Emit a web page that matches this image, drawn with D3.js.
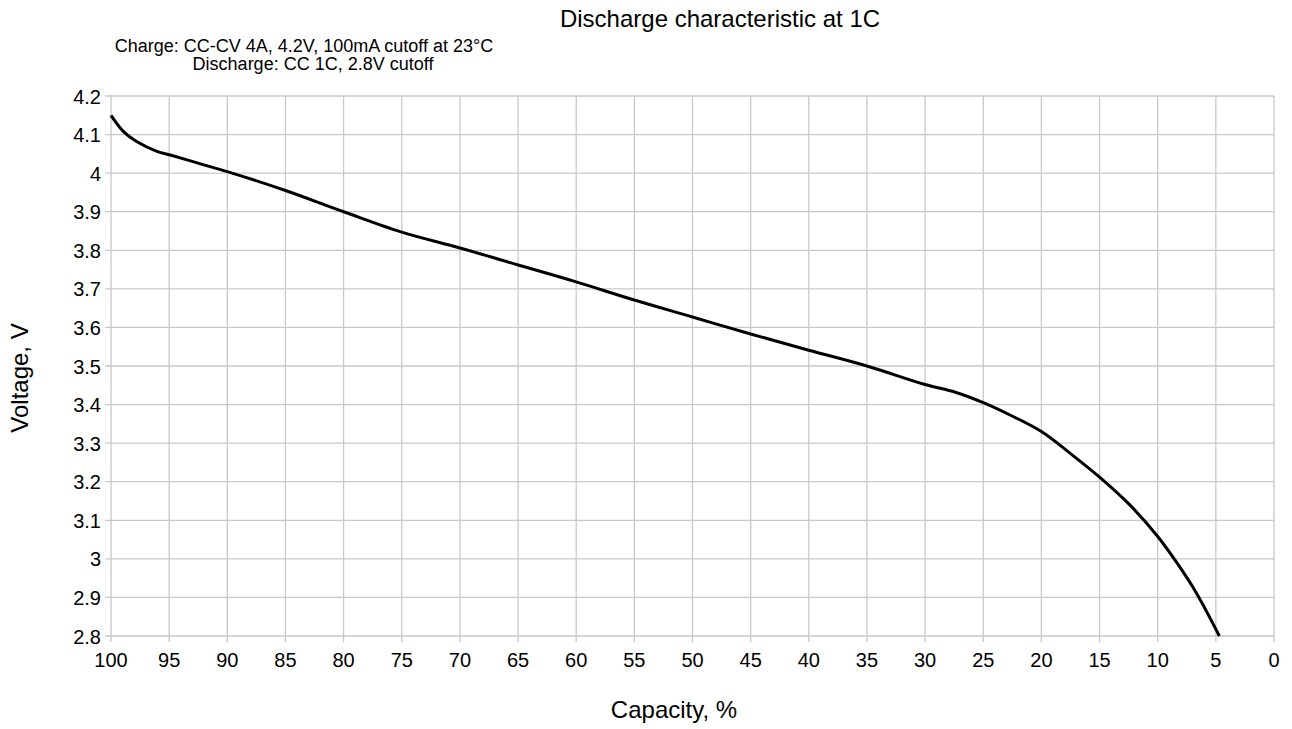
<!DOCTYPE html>
<html>
<head>
<meta charset="utf-8">
<script src="https://cdn.jsdelivr.net/npm/d3@7"></script>
<style>
  body { margin: 0; background: #fff; }
  text { font-family: "Liberation Sans", Arial, sans-serif; fill: #000; }
</style>
</head>
<body>
<svg id="chart" width="1292" height="729"></svg>
<script>
// capacity (%) and voltage (V)
const capacity = [100, 98.9, 97.8, 96, 94.9, 92.3, 90, 85, 80, 75, 70, 65, 60, 55, 50, 45, 40, 35, 30, 27.4, 25, 22.7, 20, 17.5, 15, 12.4, 10, 8.4, 6.7, 4.7];
const voltage = [4.15, 4.107, 4.082, 4.056, 4.047, 4.024, 4.004, 3.955, 3.9, 3.847, 3.806, 3.762, 3.718, 3.671, 3.627, 3.583, 3.541, 3.5, 3.452, 3.432, 3.405, 3.373, 3.33, 3.273, 3.212, 3.14, 3.058, 2.992, 2.913, 2.8];
const xTicks = d3.range(100, -1, -5);
const yTicks = d3.range(28, 43).map((d) => d / 10);

const svg = d3.select("#chart");
const plotLeft = 111, plotRight = 1274, plotTop = 96, plotBottom = 636;

const x = d3.scaleLinear().domain([100, 0]).range([plotLeft, plotRight]);
const y = d3.scaleLinear().domain([2.8, 4.2]).range([plotBottom, plotTop]);

const grid = svg.append("g").attr("stroke", "#c8c8c8").attr("stroke-width", 1.3);

// vertical grid + outward ticks
grid.selectAll(".vx")
  .data(xTicks)
  .enter()
  .append("line")
  .attr("x1", (d) => x(d))
  .attr("x2", (d) => x(d))
  .attr("y1", plotTop)
  .attr("y2", plotBottom + 6);

// horizontal grid + outward ticks
grid.selectAll(".hy")
  .data(yTicks)
  .enter()
  .append("line")
  .attr("x1", plotLeft - 6)
  .attr("x2", plotRight)
  .attr("y1", (d) => y(d))
  .attr("y2", (d) => y(d));

// tick labels
svg.append("g")
  .selectAll("text")
  .data(xTicks)
  .enter()
  .append("text")
  .attr("x", (d) => x(d))
  .attr("y", plotBottom + 31)
  .attr("text-anchor", "middle")
  .style("font-size", "20px")
  .text((d) => d);

svg.append("g")
  .selectAll("text")
  .data(yTicks)
  .enter()
  .append("text")
  .attr("x", plotLeft - 10)
  .attr("y", (d) => y(d) + 7.5)
  .attr("text-anchor", "end")
  .style("font-size", "20px")
  .text((d) => d3.format("~g")(d));

// the discharge curve
const pts = capacity.map((c, i) => [c, voltage[i]]);
const line = d3.line()
  .x((d) => x(d[0]))
  .y((d) => y(d[1]))
  .curve(d3.curveCatmullRom.alpha(0.5));

svg.append("path")
  .datum(pts)
  .attr("d", line)
  .attr("fill", "none")
  .attr("stroke", "#000")
  .attr("stroke-width", 3);

// titles
svg.append("text")
  .attr("x", 720)
  .attr("y", 27)
  .attr("text-anchor", "middle")
  .style("font-size", "24px")
  .text("Discharge characteristic at 1C");

svg.append("text")
  .attr("x", 304)
  .attr("y", 52)
  .attr("text-anchor", "middle")
  .style("font-size", "18px")
  .text("Charge: CC-CV 4A, 4.2V, 100mA cutoff at 23°C");

svg.append("text")
  .attr("x", 313)
  .attr("y", 70)
  .attr("text-anchor", "middle")
  .style("font-size", "18px")
  .text("Discharge: CC 1C, 2.8V cutoff");

svg.append("text")
  .attr("x", 674)
  .attr("y", 718)
  .attr("text-anchor", "middle")
  .style("font-size", "24px")
  .text("Capacity, %");

svg.append("text")
  .attr("transform", "translate(28,378) rotate(-90)")
  .attr("text-anchor", "middle")
  .style("font-size", "24px")
  .text("Voltage, V");
</script>
</body>
</html>
